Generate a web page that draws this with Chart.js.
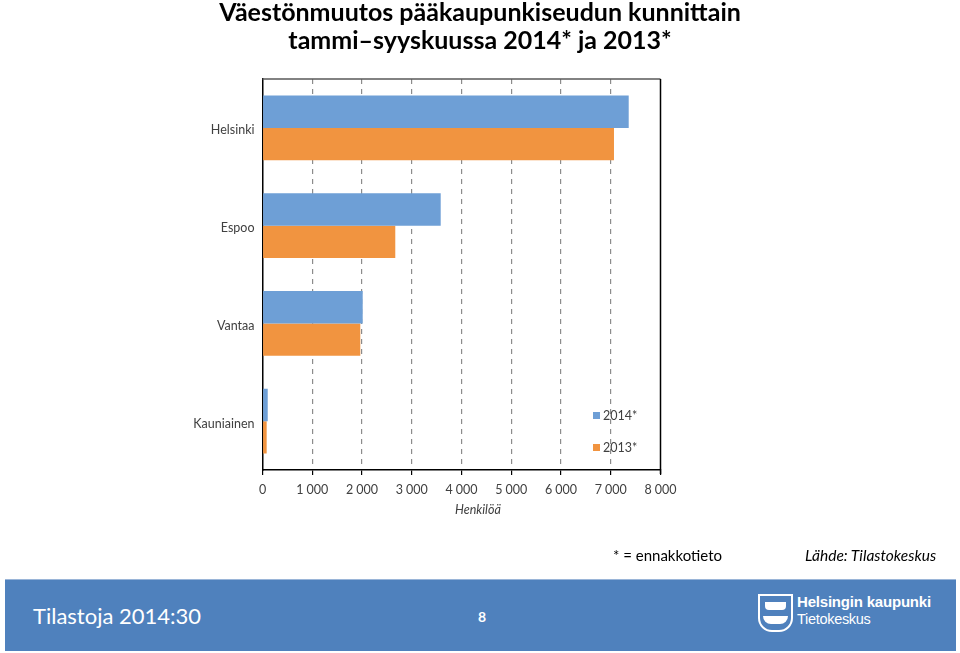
<!DOCTYPE html>
<html>
<head>
<meta charset="utf-8">
<script src="https://cdn.jsdelivr.net/npm/chart.js@4.4.0/dist/chart.umd.min.js"></script>
<style>
  html, body { margin:0; padding:0; background:#fff; }
  body { width:960px; height:653px; position:relative; overflow:hidden; font-family: Lato, "Open Sans", sans-serif; }
  #c { position:absolute; left:0; top:0; }
  .abs { position:absolute; white-space:nowrap; }
  #title { left:0; width:960px; top:-3px; text-align:center; font-weight:bold; font-size:25px; line-height:28px; color:#000; }
  .leg { font-size:12.5px; color:#404040; display:flex; align-items:center; }
  .leg i { display:inline-block; width:7px; height:7px; margin-right:3px; }
  #footer { left:5px; top:579px; width:951px; height:71px; background:#4F81BD; border-top:1px solid #9ab5d8; }
</style>
</head>
<body>
<canvas id="c" width="960" height="653"></canvas>
<div id="title" class="abs">Väestönmuutos pääkaupunkiseudun kunnittain<br>tammi–syyskuussa 2014* ja 2013*</div>
<div id="legend"></div>
<div class="abs" style="left:455px; top:502px; font-size:12.5px; font-style:italic; color:#404040;">Henkilöä</div>
<div class="abs" style="left:613px; top:546px; font-size:15px; color:#000;">* = ennakkotieto</div>
<div class="abs" style="left:805px; top:546px; font-size:15.5px; font-style:italic; color:#000;">Lähde: Tilastokeskus</div>
<div id="footer" class="abs">
  <div class="abs" style="left:28px; top:22px; font-size:22px; color:#fff;">Tilastoja 2014:30</div>
  <div class="abs" style="left:473px; top:28px; font-size:14px; color:#fff; font-weight:bold;">8</div>
  <div class="abs" style="left:753px; top:14px; width:31px; height:34px; border:2px solid #fff; border-radius:0 0 14px 14px;"></div>
  <div class="abs" style="left:760px; top:22px; width:21px; height:8px; background:#fff; border-radius:0 0 4px 4px;"></div>
  <div class="abs" style="left:758px; top:36px; width:25px; height:8px; background:#fff; border-radius:0 0 8px 8px;"></div>
  <div class="abs" style="left:792px; top:13px; font-size:15px; font-weight:900; color:#fff; font-family:'Liberation Sans', Arial, sans-serif; letter-spacing:-0.2px;">Helsingin kaupunki</div>
  <div class="abs" style="left:792px; top:31px; font-size:14.5px; color:#fff; font-family:'Liberation Sans', Arial, sans-serif; letter-spacing:-0.3px;">Tietokeskus</div>
</div>
<script>
const categories = ["Helsinki", "Espoo", "Vantaa", "Kauniainen"];
const seriesLabels = ["2014*", "2013*"];
const values2014 = [7361, 3582, 2014, 105];
const values2013 = [7065, 2669, 1966, 84];
const tickLabels = ["0", "1 000", "2 000", "3 000", "4 000", "5 000", "6 000", "7 000", "8 000"];
const colors = ["#6E9FD6", "#F19440"];

const frame = {
  id: 'frame',
  afterDatasetsDraw(chart) {
    const a = chart.chartArea, ctx = chart.ctx;
    ctx.save();
    ctx.lineWidth = 1.5;
    ctx.strokeStyle = '#595959';
    ctx.beginPath(); ctx.moveTo(a.left, a.top); ctx.lineTo(a.right, a.top); ctx.stroke();
    ctx.strokeStyle = '#000';
    ctx.beginPath(); ctx.moveTo(a.right, a.top); ctx.lineTo(a.right, a.bottom + 4); ctx.stroke();
    ctx.restore();
  }
};

const chart = new Chart(document.getElementById('c'), {
  type: 'bar',
  data: {
    labels: categories,
    datasets: [
      { label: seriesLabels[0], data: values2014, backgroundColor: colors[0], borderWidth: 0 },
      { label: seriesLabels[1], data: values2013, backgroundColor: colors[1], borderWidth: 0 }
    ]
  },
  options: {
    indexAxis: 'y',
    responsive: false,
    animation: false,
    devicePixelRatio: 1,
    layout: { padding: { left: 0, top: 79, right: 299.5, bottom: 133 } },
    datasets: { bar: { barPercentage: 1, categoryPercentage: 0.66 } },
    plugins: { legend: { display: false }, tooltip: { enabled: false }, title: { display: false } },
    scales: {
      x: {
        min: 0, max: 8000,
        afterFit(s) { s.height = 50; },
        ticks: {
          stepSize: 1000,
          padding: 7,
          color: '#404040',
          font: { family: 'Lato', size: 12.5 },
          callback: (v, i) => tickLabels[i]
        },
        grid: {
          color: ctx => (ctx.tick && (ctx.tick.value === 0 || ctx.tick.value === 8000)) ? 'rgba(0,0,0,0)' : '#8c8c8c',
          lineWidth: 1.2,
          drawTicks: true,
          tickLength: 5,
          tickColor: '#000',
          tickBorderDash: [],
        },
        border: { display: true, color: '#000', width: 1.5, dash: [5, 5] }
      },
      y: {
        afterFit(s) { s.width = 262.5; },
        ticks: { padding: 8, labelOffset: 2.5, color: '#404040', font: { family: 'Lato', size: 12.5 } },
        grid: { display: false, drawTicks: false },
        border: { display: true, color: '#000', width: 1.5 }
      }
    }
  },
  plugins: [frame]
});

// legend from datasets
const leg = document.getElementById('legend');
const legTops = [408, 440];
chart.data.datasets.forEach((d, i) => {
  const el = document.createElement('div');
  el.className = 'abs leg';
  el.style.left = '593px';
  el.style.top = legTops[i] + 'px';
  el.innerHTML = '<i style="background:' + d.backgroundColor + '"></i>' + d.label;
  leg.appendChild(el);
});
</script>
</body>
</html>
